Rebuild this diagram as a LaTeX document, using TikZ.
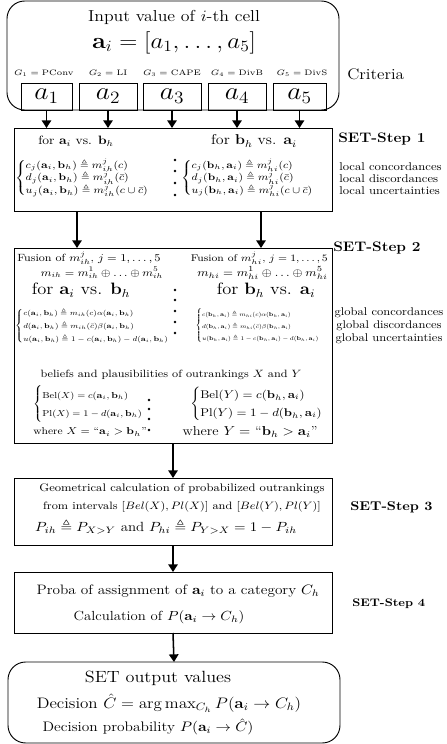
\RequirePackage{fix-cm}
\documentclass[tikz,border=0pt]{standalone}
\usepackage{amsmath,amssymb}
\usepackage{tikz}
\usetikzlibrary{arrows.meta}

\begin{document}
\begin{tikzpicture}[x=0.85pt,y=-0.85pt,
    box/.style={draw,line width=0.8pt,inner sep=0pt,outer sep=0pt},
    rbox/.style={box,rounded corners=15pt},
    arr/.style={line width=1.3pt,-{Triangle[width=8pt,length=6.5pt]}},
    txt/.style={xscale=1.12,transform shape,inner sep=0pt},
    lbl/.style={txt,anchor=west},
    rlbl/.style={txt,anchor=east},
    fs/.style 2 args={font=\fontsize{#1}{#2}\selectfont}]
    \useasboundingbox (0,0) rectangle (446,744);

    \node[rbox,minimum width=282.2pt,minimum height=92.65pt] (in) at (173,55.5) {};
    \node[txt,fs={13.5}{16}] (intitle) at (174,17) {Input value of $i$-th cell};
    \node[txt,fs={19}{23}] (invec) at (174,43) {$\mathbf{a}_i=[a_1,\ldots,a_5]$};
    \node[txt,fs={6.7}{8}] (g1) at (44,73) {$G_1=\mathrm{PConv}$};
    \node[txt,fs={6.7}{8}] (g2) at (108,73) {$G_2=\mathrm{LI}$};
    \node[txt,fs={6.7}{8}] (g3) at (172,73) {$G_3=\mathrm{CAPE}$};
    \node[txt,fs={6.7}{8}] (g4) at (237,73) {$G_4=\mathrm{DivB}$};
    \node[txt,fs={6.7}{8}] (g5) at (302,73) {$G_5=\mathrm{DivS}$};
    \foreach \i/\x/\w in {1/46.5/43.35pt,2/108/49.3pt,3/172/49.3pt,4/237/49.3pt,5/299.5/45.05pt}{
        \node[box,minimum width=\w,minimum height=22.95pt] (a\i) at (\x,96.5) {};
        \node[txt,fs={21}{25}] (ta\i) at (a\i) {$a_\i$};
    }
    \node[lbl,fs={13}{15}] (crit) at (347,74) {Criteria};

    \node[box,minimum width=270.3pt,minimum height=70.55pt] (s1) at (173,169.5) {};
    \node[txt,fs={10.3}{12}] (s1l) at (76,141) {for $\mathbf{a}_i$ vs. $\mathbf{b}_h$};
    \node[txt,fs={12.1}{14}] (s1r) at (254,141) {for $\mathbf{b}_h$ vs. $\mathbf{a}_i$};
    \node[lbl,fs={8.4}{8.2}] (c1l) at (15,178) {$\begin{cases}
        c_j(\mathbf{a}_i,\mathbf{b}_h)\triangleq m_{ih}^j(c)\\
        d_j(\mathbf{a}_i,\mathbf{b}_h)\triangleq m_{ih}^j(\bar{c})\\
        u_j(\mathbf{a}_i,\mathbf{b}_h)\triangleq m_{ih}^j(c\cup\bar{c})\end{cases}$};
    \node[rlbl,fs={8.3}{8.2}] (c1r) at (325,178) {$\begin{cases}
        c_j(\mathbf{b}_h,\mathbf{a}_i)\triangleq m_{hi}^j(c)\\
        d_j(\mathbf{b}_h,\mathbf{a}_i)\triangleq m_{hi}^j(\bar{c})\\
        u_j(\mathbf{b}_h,\mathbf{a}_i)\triangleq m_{hi}^j(c\cup\bar{c})\end{cases}$};
    \foreach \y in {160,171,183,195} \fill (175,\y) circle (1.1pt);
    \node[lbl,fs={11.7}{14}] (st1) at (338,139) {\bfseries SET-Step 1};
    \node[lbl,fs={9.6}{11}] (lc) at (339,167) {local concordances};
    \node[lbl,fs={9.6}{11}] (ld) at (339,179) {local discordances};
    \node[lbl,fs={9.6}{11}] (lu) at (339,191) {local uncertainties};

    \node[box,minimum width=270.3pt,minimum height=165.75pt] (s2) at (173,345.5) {};
    \node[lbl,fs={8.9}{10}] (f2l) at (17,258) {Fusion of $m_{ih}^j$, $j=1,\ldots,5$};
    \node[rlbl,fs={8.3}{10}] (f2r) at (328,258) {Fusion of $m_{hi}^j$, $j=1,\ldots,5$};
    \node[txt,fs={9}{10}] (m2l) at (102,273) {$m_{ih}=m_{ih}^1\oplus\ldots\oplus m_{ih}^5$};
    \node[rlbl,fs={9.5}{11}] (m2r) at (328,273) {$m_{hi}=m_{hi}^1\oplus\ldots\oplus m_{hi}^5$};
    \node[txt,fs={14}{16}] (s2l) at (81,290) {for $\mathbf{a}_i$ vs. $\mathbf{b}_h$};
    \node[txt,fs={14}{16}] (s2r) at (266,290) {for $\mathbf{b}_h$ vs. $\mathbf{a}_i$};
    \node[lbl,fs={7.1}{10.5},scale=0.845] (c2l) at (15,326) {$\begin{cases}
        c(\mathbf{a}_i,\mathbf{b}_h)\triangleq m_{ih}(c)\alpha(\mathbf{a}_i,\mathbf{b}_h)\\
        d(\mathbf{a}_i,\mathbf{b}_h)\triangleq m_{ih}(\bar{c})\beta(\mathbf{a}_i,\mathbf{b}_h)\\
        u(\mathbf{a}_i,\mathbf{b}_h)\triangleq 1-c(\mathbf{a}_i,\mathbf{b}_h)-d(\mathbf{a}_i,\mathbf{b}_h)\end{cases}$};
    \node[rlbl,fs={7.1}{12.5},scale=0.68] (c2r) at (326,326) {$\begin{cases}
        c(\mathbf{b}_h,\mathbf{a}_i)\triangleq m_{hi}(c)\alpha(\mathbf{b}_h,\mathbf{a}_i)\\
        d(\mathbf{b}_h,\mathbf{a}_i)\triangleq m_{hi}(\bar{c})\beta(\mathbf{b}_h,\mathbf{a}_i)\\
        u(\mathbf{b}_h,\mathbf{a}_i)\triangleq 1-c(\mathbf{b}_h,\mathbf{a}_i)-d(\mathbf{b}_h,\mathbf{a}_i)\end{cases}$};
    \foreach \y in {290,300,311,322,333} \fill (175,\y) circle (1.1pt);
    \node[txt,fs={9}{11}] (bp) at (171,375) {beliefs and plausibilities of outrankings $X$ and $Y$};
    \node[lbl,fs={8.1}{14}, scale=0.91] (bl) at (33,404) {$\begin{cases}
        \mathrm{Bel}(X)=c(\mathbf{a}_i,\mathbf{b}_h)\\
        \mathrm{Pl}(X)=1-d(\mathbf{a}_i,\mathbf{b}_h)\end{cases}$};
    \node[lbl,fs={9.5}{12.75}] (br) at (190,404) {$\begin{cases}
        \mathrm{Bel}(Y)=c(\mathbf{b}_h,\mathbf{a}_i)\\
        \mathrm{Pl}(Y)=1-d(\mathbf{b}_h,\mathbf{a}_i)\end{cases}$};
    \foreach \y in {400,409,419,430} \fill (149,\y) circle (1.1pt);
    \node[txt,fs={8.5}{10}] (wl) at (90,432) {where $X=$ ``$\mathbf{a}_i>\mathbf{b}_h$''};
    \node[txt,fs={11}{13}] (wr) at (250,432) {where $Y=$ ``$\mathbf{b}_h>\mathbf{a}_i$''};
    \node[lbl,fs={11.7}{14}] (st2) at (333,248) {\bfseries SET-Step 2};
    \node[txt,fs={9.5}{11}] (gc) at (389,313) {global concordances};
    \node[txt,fs={9.5}{11}] (gd) at (389,326) {global discordances};
    \node[txt,fs={9.5}{11}] (gu) at (389,339) {global uncertainties};

    \node[box,minimum width=270.3pt,minimum height=56.95pt] (s3) at (173,511.5) {};
    \node[txt,fs={9.3}{11}] (g3a) at (182,489) {Geometrical calculation of probabilized outrankings};
    \node[txt,fs={9.1}{11}] (g3b) at (182,507) {from intervals $[Bel(X),Pl(X)]$ and $[Bel(Y),Pl(Y)]$};
    \node[txt,fs={11.3}{13}] (g3c) at (166,527) {$P_{ih}\triangleq P_{X>Y}$ and $P_{hi}\triangleq P_{Y>X}=1-P_{ih}$};
    \node[lbl,fs={10.8}{13}] (st3) at (350,507) {\bfseries SET-Step 3};

    \node[box,minimum width=270.3pt,minimum height=51.85pt] (s4) at (173,602.5) {};
    \node[txt,fs={11.6}{14}] (p4a) at (178,591) {Proba of assignment of $\mathbf{a}_i$ to a category $C_h$};
    \node[txt,fs={11.2}{13}] (p4b) at (159,617) {Calculation of $P(\mathbf{a}_i\to C_h)$};
    \node[lbl,fs={9.3}{11}] (st4) at (352,604) {\bfseries SET-Step 4};

    \node[rbox,minimum width=282.2pt,minimum height=68.85pt] (out) at (174,702.5) {};
    \node[txt,fs={13.8}{16}] (o1) at (158,678) {SET output values};
    \node[txt,fs={12.9}{15}] (o2) at (169,703) {Decision $\hat{C}=\arg\max_{C_h}P(\mathbf{a}_i\to C_h)$};
    \node[txt,fs={11.7}{14}] (o3) at (148,727) {Decision probability $P(\mathbf{a}_i\to\hat{C})$};

    \foreach \i in {1,...,5} \draw[arr] (a\i.south) -- (a\i.south |- s1.north);
    \coordinate (l1) at (77,211);
    \coordinate (r1) at (261,211);
    \draw[arr] (l1) -- (l1 |- s2.north);
    \draw[arr] (r1) -- (r1 |- s2.north);
    \draw[arr] (s2.south) -- (s3.north);
    \draw[arr] (s3.south) -- (s4.north);
    \draw[arr] (s4.south) -- (out.north);
\end{tikzpicture}
\end{document}
